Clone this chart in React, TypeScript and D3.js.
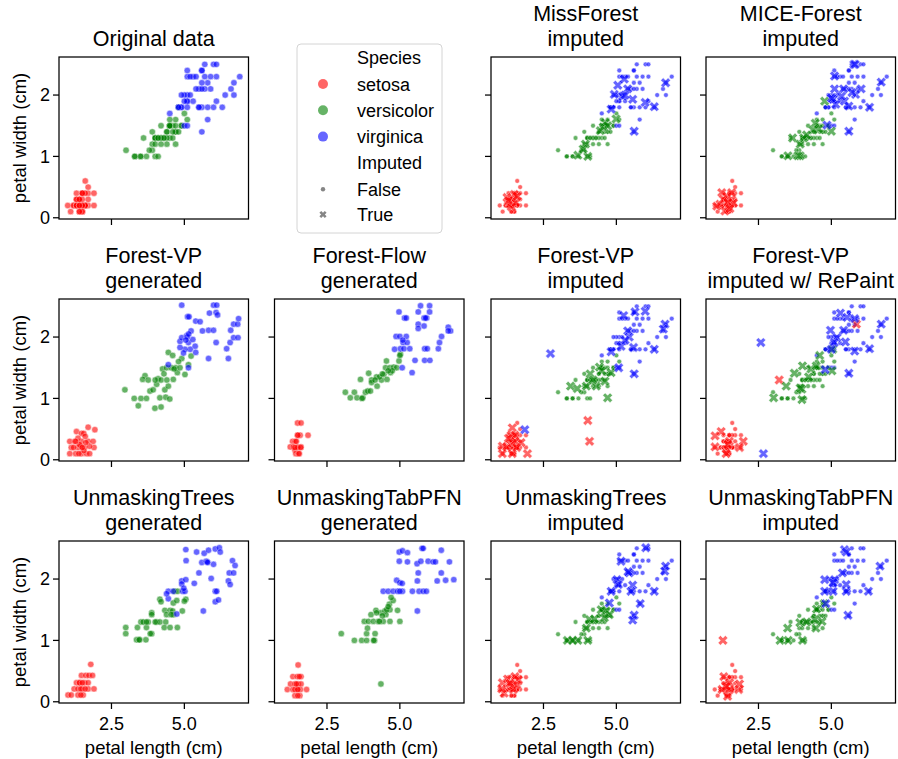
import React from 'react';
import * as d3 from 'd3';

type Pt = [number, number];

const speciesNames = ['setosa', 'versicolor', 'virginica'];
const speciesColors = ['#ff0000', '#008000', '#0000ff'];
const speciesCounts = [50, 50, 50];

// Original iris petal measurements (rows ordered setosa, versicolor, virginica)
const irisPetalLength = [
  1.4, 1.4, 1.3, 1.5, 1.4, 1.7, 1.4, 1.5, 1.4, 1.5, 1.5, 1.6, 1.4, 1.1, 1.2, 1.5, 1.3, 1.4, 1.7, 1.5,
  1.7, 1.5, 1.0, 1.7, 1.9, 1.6, 1.6, 1.5, 1.4, 1.6, 1.6, 1.5, 1.5, 1.4, 1.5, 1.2, 1.3, 1.4, 1.3, 1.5,
  1.3, 1.3, 1.3, 1.6, 1.9, 1.4, 1.6, 1.4, 1.5, 1.4,
  4.7, 4.5, 4.9, 4.0, 4.6, 4.5, 4.7, 3.3, 4.6, 3.9, 3.5, 4.2, 4.0, 4.7, 3.6, 4.4, 4.5, 4.1, 4.5, 3.9,
  4.8, 4.0, 4.9, 4.7, 4.3, 4.4, 4.8, 5.0, 4.5, 3.5, 3.8, 3.7, 3.9, 5.1, 4.5, 4.5, 4.7, 4.4, 4.1, 4.0,
  4.4, 4.6, 4.0, 3.3, 4.2, 4.2, 4.2, 4.3, 3.0, 4.1,
  6.0, 5.1, 5.9, 5.6, 5.8, 6.6, 4.5, 6.3, 5.8, 6.1, 5.1, 5.3, 5.5, 5.0, 5.1, 5.3, 5.5, 6.7, 6.9, 5.0,
  5.7, 4.9, 6.7, 4.9, 5.7, 6.0, 4.8, 4.9, 5.6, 5.8, 6.1, 6.4, 5.6, 5.1, 5.6, 6.1, 5.6, 5.5, 4.8, 5.4,
  5.6, 5.1, 5.1, 5.9, 5.7, 5.2, 5.0, 5.2, 5.4, 5.1,
];
const irisPetalWidth = [
  0.2, 0.2, 0.2, 0.2, 0.2, 0.4, 0.3, 0.2, 0.2, 0.1, 0.2, 0.2, 0.1, 0.1, 0.2, 0.4, 0.4, 0.3, 0.3, 0.3,
  0.2, 0.4, 0.2, 0.5, 0.2, 0.2, 0.4, 0.2, 0.2, 0.2, 0.2, 0.4, 0.1, 0.2, 0.2, 0.2, 0.2, 0.1, 0.2, 0.2,
  0.3, 0.3, 0.2, 0.6, 0.4, 0.3, 0.2, 0.2, 0.2, 0.2,
  1.4, 1.5, 1.5, 1.3, 1.5, 1.3, 1.6, 1.0, 1.3, 1.4, 1.0, 1.5, 1.0, 1.4, 1.3, 1.4, 1.5, 1.0, 1.5, 1.1,
  1.8, 1.3, 1.5, 1.2, 1.3, 1.4, 1.4, 1.7, 1.5, 1.0, 1.1, 1.0, 1.2, 1.6, 1.5, 1.6, 1.5, 1.3, 1.3, 1.3,
  1.2, 1.4, 1.2, 1.0, 1.3, 1.2, 1.3, 1.3, 1.1, 1.3,
  2.5, 1.9, 2.1, 1.8, 2.2, 2.1, 1.7, 1.8, 1.8, 2.5, 2.0, 1.9, 2.1, 2.0, 2.4, 2.3, 1.8, 2.2, 2.3, 1.5,
  2.3, 2.0, 2.0, 1.8, 2.1, 1.8, 1.8, 1.8, 2.1, 1.6, 1.9, 2.0, 2.2, 1.5, 1.4, 2.3, 2.4, 1.8, 1.8, 2.1,
  2.4, 2.3, 1.9, 2.3, 2.5, 2.3, 1.9, 2.0, 2.3, 1.8,
];

// ---- generated panels ----
const fvpGenSetosa: Pt[] = [[1.70,0.53],[1.93,0.49],[1.30,0.46],[1.47,0.43],[1.55,0.43],[1.07,0.30],[1.24,0.30],[1.47,0.30],[1.70,0.30],[1.87,0.30],[1.35,0.35],[1.60,0.38],[1.12,0.20],[1.35,0.20],[1.58,0.20],[1.90,0.20],[1.45,0.22],[1.75,0.22],[1.07,0.10],[1.27,0.10],[1.47,0.10],[1.64,0.10],[1.75,0.10],[1.40,0.25],[1.27,0.30],[1.55,0.15],[1.20,0.20],[1.62,0.28],[1.38,0.10],[1.50,0.20]];
const fvpGenVersicolor: Pt[] = [[2.96,1.14],[3.28,1.00],[3.51,1.00],[3.70,1.00],[3.42,0.88],[3.99,0.84],[4.20,0.86],[3.65,1.37],[3.57,1.31],[3.76,1.30],[3.82,1.12],[3.93,1.14],[4.05,1.23],[4.10,1.32],[4.25,1.48],[4.39,1.50],[4.45,1.75],[4.60,1.70],[4.70,1.50],[4.16,1.01],[4.36,1.02],[4.50,0.99],[4.33,1.14],[4.45,1.20],[4.62,1.31],[4.76,1.42],[4.85,1.50],[4.91,1.65],[5.23,1.69],[5.14,1.55],[5.02,1.39],[4.20,1.30],[4.30,1.40],[4.55,1.50],[4.00,1.30],[4.80,1.60],[4.65,1.48],[4.40,1.30]];
const fvpGenVirginica: Pt[] = [[4.91,2.52],[5.11,2.33],[5.16,2.33],[5.39,2.26],[5.54,2.25],[5.62,2.10],[5.83,2.11],[6.00,2.11],[5.86,2.39],[6.00,2.52],[6.11,2.52],[6.09,2.40],[6.14,2.36],[4.85,1.93],[4.91,1.99],[5.08,2.02],[5.14,1.91],[5.29,1.96],[5.37,1.85],[5.20,1.80],[5.02,1.80],[4.85,1.83],[4.97,1.74],[5.39,1.75],[5.23,2.10],[5.83,1.65],[6.09,1.91],[6.51,1.65],[6.45,1.81],[6.57,1.91],[6.69,1.99],[6.84,1.99],[6.69,2.21],[6.83,2.21],[6.86,2.30],[6.59,2.11],[4.45,1.55],[5.14,1.50],[5.10,2.00],[5.05,1.95],[5.15,2.05]];

const ffGenSetosa: Pt[] = [[1.49,0.60],[1.61,0.60],[1.49,0.40],[1.58,0.40],[1.85,0.40],[1.32,0.30],[1.41,0.30],[1.24,0.21],[1.35,0.21],[1.50,0.21],[1.61,0.21],[1.40,0.16],[1.43,0.10],[1.52,0.10],[1.50,0.20],[1.40,0.20],[1.55,0.10],[1.45,0.30],[1.60,0.20],[1.50,0.40]];
const ffGenVersicolor: Pt[] = [[3.13,1.10],[3.44,1.10],[3.30,1.01],[3.53,1.01],[3.73,1.01],[3.70,1.00],[3.65,1.31],[3.82,1.10],[3.90,1.12],[3.99,1.12],[4.22,1.20],[4.03,1.30],[4.03,1.26],[4.20,1.35],[4.37,1.30],[4.45,1.39],[4.56,1.31],[4.68,1.42],[4.51,1.50],[4.66,1.50],[4.79,1.51],[4.89,1.50],[4.54,1.61],[4.97,1.61],[5.02,1.72],[5.00,1.70],[4.74,1.45],[3.93,1.41],[4.30,1.35],[4.60,1.45],[4.40,1.40],[4.15,1.30]];
const ffGenVirginica: Pt[] = [[5.71,2.51],[6.02,2.51],[4.97,2.41],[5.63,2.41],[6.02,2.41],[5.16,2.31],[5.22,2.31],[5.83,2.31],[5.92,2.31],[5.88,2.31],[5.63,2.21],[5.83,2.18],[5.63,2.14],[4.87,2.01],[5.00,2.01],[5.22,2.01],[5.11,1.91],[5.25,1.91],[5.10,1.95],[4.82,1.80],[5.02,1.81],[5.14,1.81],[5.34,1.81],[5.52,1.62],[5.85,1.81],[5.94,1.81],[5.85,1.62],[6.03,1.62],[5.42,1.42],[5.08,1.50],[6.32,1.81],[6.36,1.91],[6.43,2.01],[6.66,2.16],[6.74,2.10],[6.66,2.10]];

const utGenSetosa: Pt[] = [[1.79,0.61],[1.47,0.43],[1.62,0.43],[1.73,0.43],[1.85,0.43],[1.30,0.31],[1.41,0.31],[1.58,0.31],[1.70,0.31],[1.22,0.21],[1.35,0.21],[1.50,0.21],[1.70,0.21],[1.90,0.21],[1.01,0.11],[1.12,0.11],[1.35,0.11],[1.53,0.11],[1.45,0.21],[1.40,0.31],[1.60,0.21],[1.50,0.31],[1.45,0.11]];
const utGenVersicolor: Pt[] = [[2.99,1.21],[2.99,1.11],[3.36,1.01],[3.47,1.01],[3.68,1.01],[3.45,1.01],[3.39,1.21],[3.70,1.21],[3.51,1.30],[3.88,1.11],[3.83,1.11],[3.88,1.45],[3.88,1.42],[3.59,1.30],[3.76,1.30],[4.05,1.30],[4.16,1.30],[4.36,1.30],[4.31,1.21],[4.51,1.21],[4.76,1.21],[4.33,1.49],[4.51,1.49],[4.60,1.48],[4.39,1.42],[4.62,1.42],[4.55,1.42],[4.16,1.67],[4.20,1.63],[4.62,1.61],[4.66,1.80],[4.77,1.80],[4.74,1.65],[4.93,1.48],[5.05,1.67],[5.00,1.64],[4.00,1.30],[3.70,1.30]];
const utGenVirginica: Pt[] = [[5.05,2.48],[5.42,2.44],[5.68,2.42],[5.83,2.47],[6.06,2.49],[6.20,2.51],[6.23,2.44],[5.06,2.30],[5.60,2.27],[5.75,2.29],[5.78,2.28],[6.00,2.24],[5.50,2.10],[5.34,1.93],[4.91,1.97],[4.91,1.92],[5.05,1.99],[4.94,1.80],[5.02,1.80],[4.45,1.80],[4.62,1.80],[4.45,1.68],[4.74,1.43],[5.65,1.48],[5.92,2.01],[6.06,1.80],[6.11,1.80],[6.06,1.63],[6.17,1.66],[6.51,1.97],[6.57,1.91],[6.54,2.10],[6.69,2.10],[6.65,2.30],[6.74,2.22],[4.39,1.76],[5.80,2.27],[4.98,1.85]];

const utpGenSetosa: Pt[] = [[1.51,0.60],[1.33,0.41],[1.48,0.41],[1.61,0.41],[1.25,0.29],[1.40,0.29],[1.51,0.29],[1.61,0.29],[1.14,0.20],[1.33,0.20],[1.48,0.20],[1.59,0.20],[1.80,0.20],[1.40,0.10],[1.57,0.10],[1.40,0.20],[1.50,0.20],[1.45,0.29],[1.50,0.10],[1.55,0.41]];
const utpGenVersicolor: Pt[] = [[2.99,1.11],[3.44,1.00],[3.69,1.00],[3.86,1.00],[4.13,1.00],[4.10,1.00],[3.86,1.11],[4.15,1.11],[3.89,1.20],[3.78,1.31],[3.92,1.31],[4.09,1.31],[4.26,1.31],[4.43,1.31],[4.66,1.31],[5.00,1.31],[4.01,1.42],[4.18,1.49],[4.35,1.45],[4.49,1.48],[4.66,1.50],[4.52,1.42],[4.64,1.59],[4.77,1.65],[4.92,1.49],[4.35,0.29],[4.20,1.45],[4.55,1.50],[4.40,1.40],[4.60,1.55],[4.30,1.31],[4.70,1.70]];
const utpGenVirginica: Pt[] = [[4.98,2.44],[5.09,2.46],[5.26,2.43],[4.98,2.29],[5.26,2.28],[5.59,2.25],[5.72,2.29],[5.76,2.50],[5.80,2.50],[5.97,2.29],[6.14,2.28],[6.22,2.28],[6.42,2.47],[6.70,2.28],[6.42,2.10],[5.63,2.10],[5.60,1.97],[4.89,1.98],[5.00,1.94],[5.08,1.93],[6.28,1.97],[6.57,1.98],[6.85,1.99],[4.43,1.80],[4.60,1.80],[4.77,1.80],[4.92,1.80],[5.09,1.80],[5.00,1.80],[5.43,1.80],[5.66,1.80],[5.80,1.80],[5.91,1.80],[5.60,1.48]];

// ---- imputed values (shown as X) ----
const mfImpSetosa: Pt[] = [[1.35,0.22],[1.45,0.30],[1.50,0.38],[1.25,0.33],[1.40,0.18],[1.55,0.25],[1.30,0.28],[1.60,0.35]];
const mfImpVersicolor: Pt[] = [[3.68,1.02],[4.02,1.00],[3.94,1.20],[3.86,1.12],[4.55,1.48],[4.62,1.55],[4.70,1.50],[4.99,1.61],[4.45,1.42]];
const mfImpVirginica: Pt[] = [[5.05,2.16],[5.39,2.10],[5.27,2.26],[5.99,1.88],[6.30,1.81],[6.69,2.20],[5.61,1.41],[4.82,1.77],[4.93,2.01],[5.22,1.98],[5.56,1.93],[5.30,2.00]];

const miceImpSetosa: Pt[] = [[1.24,0.41],[1.41,0.35],[1.58,0.30],[1.18,0.22],[1.47,0.19],[1.35,0.11],[1.64,0.24],[1.07,0.19],[1.58,0.41],[1.30,0.30],[1.45,0.25],[1.52,0.15]];
const miceImpVersicolor: Pt[] = [[3.67,1.30],[3.51,1.01],[3.93,1.01],[3.93,1.20],[4.05,1.30],[4.45,1.54],[4.56,1.45],[5.00,1.41],[4.77,1.90],[4.37,1.43],[3.85,1.01],[4.15,1.35]];
const miceImpVirginica: Pt[] = [[5.11,2.31],[5.77,2.50],[5.82,2.50],[5.11,2.10],[5.42,2.10],[6.02,2.10],[5.83,2.01],[5.06,1.93],[5.45,1.90],[5.60,1.82],[6.31,1.80],[6.71,2.21],[5.60,1.41],[4.85,1.51],[5.71,2.04],[5.15,1.85],[5.00,1.95],[5.35,1.98]];

const fvpImpSetosa: Pt[] = [[1.43,0.52],[1.39,0.40],[1.52,0.40],[1.09,0.22],[1.24,0.21],[1.43,0.27],[1.73,0.28],[1.95,0.10],[1.09,0.10],[1.43,0.10],[1.52,0.30],[1.58,0.20],[4.02,0.64],[4.08,0.30],[1.30,0.35]];
const fvpImpVersicolor: Pt[] = [[3.43,1.20],[3.66,1.16],[4.10,1.40],[4.31,1.20],[4.61,1.28],[4.70,1.01],[4.42,1.51],[4.82,1.42],[3.97,1.20],[4.20,1.30],[4.50,1.45]];
const fvpImpVirginica: Pt[] = [[2.74,1.73],[1.86,0.49],[5.25,2.35],[5.64,2.41],[5.99,2.42],[6.67,2.21],[6.61,2.13],[5.39,2.10],[5.44,2.00],[5.16,1.85],[5.59,1.83],[4.82,1.76],[6.30,1.80],[5.61,1.40],[5.08,1.50],[5.30,1.95]];

const rpImpSetosa: Pt[] = [[1.22,0.46],[1.01,0.39],[1.50,0.30],[1.41,0.17],[1.98,0.30],[1.85,0.20],[1.01,0.21],[1.39,0.10],[3.21,1.30],[5.86,2.21],[1.45,0.25]];
const rpImpVersicolor: Pt[] = [[3.02,1.01],[3.99,0.98],[3.99,1.15],[3.45,1.20],[3.73,1.41],[4.01,1.53],[3.93,1.17],[4.22,1.35],[4.30,1.48],[4.48,1.53],[4.60,1.70],[5.02,1.45],[5.05,1.80]];
const rpImpVirginica: Pt[] = [[2.58,1.91],[2.67,0.10],[4.97,2.11],[5.31,2.39],[5.54,2.32],[5.80,2.30],[5.42,2.11],[5.19,1.99],[5.10,1.91],[5.48,1.92],[5.80,1.77],[6.31,1.81],[6.71,2.21],[5.60,1.41],[4.79,1.47],[5.00,1.80]];

const utImpSetosa: Pt[] = [[1.09,0.31],[1.27,0.37],[1.52,0.41],[1.64,0.36],[1.41,0.25],[1.15,0.14],[1.47,0.20],[1.07,0.21],[1.58,0.28],[1.35,0.30]];
const utImpVersicolor: Pt[] = [[3.32,1.00],[3.68,1.00],[4.02,1.00],[3.97,1.20],[4.08,1.34],[4.48,1.50],[4.65,1.48],[4.76,1.42],[4.25,1.35],[4.59,1.37],[3.50,1.00]];
const utImpVirginica: Pt[] = [[5.16,2.29],[5.44,2.10],[5.02,1.99],[5.07,1.91],[5.56,1.90],[5.50,1.80],[4.82,1.80],[5.82,1.60],[5.61,1.41],[5.56,1.33],[6.30,1.80],[6.69,2.21],[6.66,2.13],[6.01,2.51],[4.76,1.61],[5.40,2.12]];

const utpImpSetosa: Pt[] = [[1.28,1.00],[1.31,0.41],[1.51,0.31],[1.82,0.20],[1.25,0.20],[1.44,0.09],[1.51,0.20],[1.85,0.29],[1.40,0.25]];
const utpImpVersicolor: Pt[] = [[3.50,1.20],[3.24,1.00],[3.52,1.00],[4.01,1.00],[3.92,1.29],[4.47,1.20],[4.49,1.51],[4.68,1.31],[4.43,1.34],[4.15,1.30],[4.75,1.60]];
const utpImpVirginica: Pt[] = [[5.45,2.48],[5.51,2.44],[5.38,2.10],[5.11,1.99],[4.77,1.99],[4.77,1.80],[5.06,1.80],[5.51,1.80],[5.51,1.91],[4.81,1.60],[5.57,1.41],[6.27,1.80],[6.67,2.21],[5.06,1.94]];

const xTicks = [2.5, 5.0];
const yTicks = [0, 1, 2];
const xDomain: Pt = [0.7, 7.2];
const yDomain: Pt = [-0.02, 2.62];
const legendSpeciesTitle = 'Species';
const legendStyleTitle = 'Imputed';
const legendStyleLabels = ['False', 'True'];

type Panel = {
  row: number;
  col: number;
  title: string[];
  kind: 'orig' | 'gen' | 'imp';
  pts?: Pt[][];
};

const panels: Panel[] = [
  { row: 0, col: 0, title: ['Original data'], kind: 'orig' },
  { row: 0, col: 2, title: ['MissForest', 'imputed'], kind: 'imp', pts: [mfImpSetosa, mfImpVersicolor, mfImpVirginica] },
  { row: 0, col: 3, title: ['MICE-Forest', 'imputed'], kind: 'imp', pts: [miceImpSetosa, miceImpVersicolor, miceImpVirginica] },
  { row: 1, col: 0, title: ['Forest-VP', 'generated'], kind: 'gen', pts: [fvpGenSetosa, fvpGenVersicolor, fvpGenVirginica] },
  { row: 1, col: 1, title: ['Forest-Flow', 'generated'], kind: 'gen', pts: [ffGenSetosa, ffGenVersicolor, ffGenVirginica] },
  { row: 1, col: 2, title: ['Forest-VP', 'imputed'], kind: 'imp', pts: [fvpImpSetosa, fvpImpVersicolor, fvpImpVirginica] },
  { row: 1, col: 3, title: ['Forest-VP', 'imputed w/ RePaint'], kind: 'imp', pts: [rpImpSetosa, rpImpVersicolor, rpImpVirginica] },
  { row: 2, col: 0, title: ['UnmaskingTrees', 'generated'], kind: 'gen', pts: [utGenSetosa, utGenVersicolor, utGenVirginica] },
  { row: 2, col: 1, title: ['UnmaskingTabPFN', 'generated'], kind: 'gen', pts: [utpGenSetosa, utpGenVersicolor, utpGenVirginica] },
  { row: 2, col: 2, title: ['UnmaskingTrees', 'imputed'], kind: 'imp', pts: [utImpSetosa, utImpVersicolor, utImpVirginica] },
  { row: 2, col: 3, title: ['UnmaskingTabPFN', 'imputed'], kind: 'imp', pts: [utpImpSetosa, utpImpVersicolor, utpImpVirginica] },
];

const colLeft = [59, 274.5, 491, 706];
const rowTop = [57, 299, 541];
const W = 189.5;
const H = 162;
const FONT = 'Arial, "Liberation Sans", Helvetica, sans-serif';
const ALPHA = 0.6;

function xMarkerPath(ext: number): string {
  // filled "X": a plus with arm half-width a/3, rotated 45 degrees
  const a = (ext * Math.SQRT2) / (4 / 3);
  const w = a / 3;
  const plus: Pt[] = [[-w,-a],[-w,-w],[-a,-w],[-a,w],[-w,w],[-w,a],[w,a],[w,w],[a,w],[a,-w],[w,-w],[w,-a]];
  const rot = plus.map(([x, y]) => [(x - y) / Math.SQRT2, (x + y) / Math.SQRT2] as Pt);
  return 'M' + rot.map((p) => p[0].toFixed(2) + ',' + p[1].toFixed(2)).join('L') + 'Z';
}
const X_PATH = xMarkerPath(4.9);
const X_PATH_LEGEND = xMarkerPath(3.6);

function speciesOfRow(i: number): number {
  let acc = 0;
  for (let s = 0; s < speciesCounts.length; s++) {
    acc += speciesCounts[s];
    if (i < acc) return s;
  }
  return speciesCounts.length - 1;
}

const irisRows = irisPetalLength.map((l, i) => ({ l, w: irisPetalWidth[i], s: speciesOfRow(i) }));

function PanelView({ p }: { p: Panel }) {
  const left = colLeft[p.col];
  const top = rowTop[p.row];
  const x = d3.scaleLinear().domain(xDomain).range([0, W]);
  const y = d3.scaleLinear().domain(yDomain).range([H, 0]);
  const showYLabels = p.col === 0;
  const showXLabels = p.row === 2;
  const nLines = p.title.length;

  const dots: React.ReactNode[] = [];
  if (p.kind === 'orig' || p.kind === 'imp') {
    irisRows.forEach((r, i) => {
      dots.push(
        <circle key={'o' + i} cx={x(r.l)} cy={y(r.w)} r={p.kind === 'orig' ? 3.2 : 2.4}
          fill={speciesColors[r.s]} stroke="#ffffff" strokeWidth={0.5} opacity={ALPHA} />
      );
    });
  }
  if (p.kind === 'gen' && p.pts) {
    p.pts.forEach((arr, s) =>
      arr.forEach((pt, i) => {
        dots.push(
          <circle key={'g' + s + '-' + i} cx={x(pt[0])} cy={y(pt[1])} r={3.2}
            fill={speciesColors[s]} stroke="#ffffff" strokeWidth={0.5} opacity={ALPHA} />
        );
      })
    );
  }
  if (p.kind === 'imp' && p.pts) {
    p.pts.forEach((arr, s) =>
      arr.forEach((pt, i) => {
        dots.push(
          <path key={'x' + s + '-' + i} d={X_PATH} transform={`translate(${x(pt[0])},${y(pt[1])})`}
            fill={speciesColors[s]} stroke="#ffffff" strokeWidth={0.5} opacity={ALPHA} />
        );
      })
    );
  }

  return (
    <g transform={`translate(${left},${top})`}>
      {p.title.map((t, i) => (
        <text key={'t' + i} x={W / 2} y={-11.5 - (nLines - 1 - i) * 24.5} textAnchor="middle"
          fontSize={21.5} fontFamily={FONT} fill="#000">{t}</text>
      ))}
      {dots}
      <rect x={0} y={0} width={W} height={H} fill="none" stroke="#000" strokeWidth={1.25} />
      {xTicks.map((t) => (
        <g key={'xt' + t}>
          <line x1={x(t)} x2={x(t)} y1={H} y2={H + 6} stroke="#000" strokeWidth={1.25} />
          {showXLabels && (
            <text x={x(t)} y={H + 26.5} textAnchor="middle" fontSize={18} fontFamily={FONT}>
              {d3.format('.1f')(t)}
            </text>
          )}
        </g>
      ))}
      {yTicks.map((t) => (
        <g key={'yt' + t}>
          <line x1={-6} x2={0} y1={y(t)} y2={y(t)} stroke="#000" strokeWidth={1.25} />
          {showYLabels && (
            <text x={-9} y={y(t) + 6.4} textAnchor="end" fontSize={18} fontFamily={FONT}>
              {d3.format('d')(t)}
            </text>
          )}
        </g>
      ))}
      {showXLabels && (
        <text x={W / 2} y={H + 51} textAnchor="middle" fontSize={18.5} fontFamily={FONT}>petal length (cm)</text>
      )}
      {showYLabels && (
        <text transform={`translate(-33,${H / 2}) rotate(-90)`} textAnchor="middle" fontSize={18.5} fontFamily={FONT}>
          petal width (cm)
        </text>
      )}
    </g>
  );
}

function Legend() {
  const lx = 297, ly = 44, lw = 145, lh = 189;
  const textX = 357, markX = 323;
  const rowY = [57.7, 84, 110.3, 136.6, 162.9, 189.2, 214.5];
  const fs = 18;
  return (
    <g>
      <rect x={lx} y={ly} width={lw} height={lh} rx={4} fill="#ffffff" stroke="#d4d4d4" strokeWidth={1} />
      <text x={textX} y={rowY[0] + 6.5} fontSize={fs} fontFamily={FONT}>{legendSpeciesTitle}</text>
      {speciesNames.map((s, i) => (
        <g key={s}>
          <circle cx={markX} cy={rowY[i + 1]} r={5} fill={speciesColors[i]} opacity={ALPHA} />
          <text x={textX} y={rowY[i + 1] + 6.5} fontSize={fs} fontFamily={FONT}>{s}</text>
        </g>
      ))}
      <text x={textX} y={rowY[4] + 6.5} fontSize={fs} fontFamily={FONT}>{legendStyleTitle}</text>
      <circle cx={markX} cy={rowY[5]} r={2.2} fill="#333333" opacity={ALPHA} />
      <text x={textX} y={rowY[5] + 6.5} fontSize={fs} fontFamily={FONT}>{legendStyleLabels[0]}</text>
      <path d={X_PATH_LEGEND} transform={`translate(${markX},${rowY[6]})`} fill="#333333" opacity={ALPHA} />
      <text x={textX} y={rowY[6] + 6.5} fontSize={fs} fontFamily={FONT}>{legendStyleLabels[1]}</text>
    </g>
  );
}

export default function App() {
  return (
    <svg width={898} height={759} style={{ position: 'absolute', left: 0, top: 0, background: '#fff' }}>
      <rect x={0} y={0} width={898} height={759} fill="#ffffff" />
      {panels.map((p, i) => <PanelView key={i} p={p} />)}
      <Legend />
    </svg>
  );
}
